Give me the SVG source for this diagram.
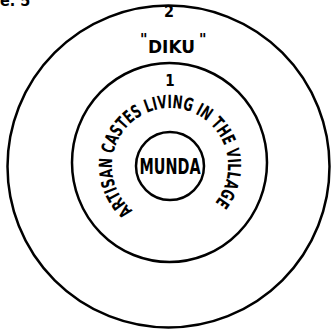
<svg xmlns="http://www.w3.org/2000/svg" width="333" height="330" viewBox="0 0 333 330">
<style>
.ring{fill:none;stroke:#000;stroke-width:2.5}
.t{font-family:"DejaVu Sans Condensed","DejaVu Sans",sans-serif;font-weight:bold;fill:#000}
</style>
<defs>
<path id="arc" d="M 132.7 210.4 A 58 58 0 1 1 212.4 205.6"/>
</defs>
<rect width="333" height="330" fill="#fff"/>
<text class="t" x="0" y="6" font-size="16">e. 5</text>
<g id="outer">
<circle class="ring" cx="168.5" cy="166.5" r="161"/>
<text class="t" x="169" y="17" font-size="16" text-anchor="middle">2</text>
<text class="t" x="140" y="45" font-size="16">"</text>
<text class="t" x="148" y="53" font-size="18" textLength="47" lengthAdjust="spacingAndGlyphs">DIKU</text>
<text class="t" x="199" y="45" font-size="16">"</text>
</g>
<g id="inner">
<ellipse class="ring" cx="169.5" cy="162.5" rx="97.5" ry="99.5"/>
<text class="t" x="170" y="86" font-size="15" text-anchor="middle">1</text>
<text class="t" font-size="18"><textPath href="#arc" textLength="272" lengthAdjust="spacingAndGlyphs">ARTISAN CASTES LIVING IN THE VILLAGE</textPath></text>
</g>
<g id="munda">
<circle class="ring" cx="170" cy="166" r="34"/>
<text class="t" x="170" y="174" font-size="21" text-anchor="middle" textLength="61" lengthAdjust="spacingAndGlyphs">MUNDA</text>
</g>
<g id="connectors"></g>
</svg>
